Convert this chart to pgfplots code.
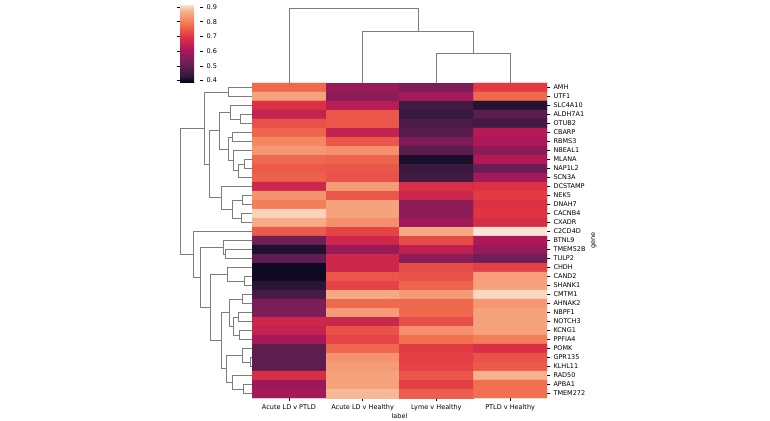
\documentclass[border=0pt]{standalone}
\usepackage{fontspec}
\setmainfont{DejaVu Sans}
\usepackage{pgfplots}
\pgfplotsset{compat=1.18}
\pgfplotsset{colormap={rocket}{rgb255(0pt)=(3,5,26); rgb255(10pt)=(53,25,62); rgb255(30pt)=(112,31,87); rgb255(50pt)=(173,23,89); rgb255(70pt)=(225,51,66); rgb255(90pt)=(243,118,81); rgb255(110pt)=(246,180,143); rgb255(120pt)=(250,235,221)}}
\definecolor{dend}{RGB}{125,125,125}
\tikzset{dd/.style={draw=dend, line width=0.6pt, mark=none}}
\newcommand{\tf}{\fontsize{6.5}{7}\selectfont}
\begin{document}
\begin{tikzpicture}
\useasboundingbox (0pt,0pt) rectangle (770pt,420pt);
% heatmap
\begin{axis}[
  at={(252pt,337pt)}, anchor=north west,
  width=295pt, height=315pt, scale only axis,
  xmin=-0.5, xmax=3.5, ymin=0.5, ymax=35.5, y dir=reverse,
  axis x line*=bottom, axis y line*=right, axis line style={draw=none},
  tick align=outside, major tick length=3pt, tick style={black, line width=0.5pt},
  xtick={0,1,2,3},
  xticklabels={Acute LD v PTLD, Acute LD v Healthy, Lyme v Healthy, PTLD v Healthy},
  ytick={1,...,35},
  yticklabels={AMH,UTF1,SLC4A10,ALDH7A1,OTUB2,CBARP,RBMS3,NBEAL1,MLANA,NAP1L2,SCN3A,DCSTAMP,NEK5,DNAH7,CACNB4,CXADR,C2CD4D,BTNL9,TMEM52B,TULP2,CHDH,CAND2,SHANK1,CMTM1,AHNAK2,NBPF1,NOTCH3,KCNG1,PPFIA4,POMK,GPR135,KLHL11,RAD50,APBA1,TMEM272},
  tick label style={font=\tf},
  xlabel={label}, ylabel={gene},
  label style={font=\tf},
  xlabel style={yshift=4pt},
  ylabel shift=-1pt,
  colormap name=rocket,
  point meta min=0.39, point meta max=0.92,
  colorbar,
  colorbar style={
    at={(-0.244,1.003)}, anchor=south west,
    width=20pt, height=78pt, scale only axis,
    ytick={0.4,0.5,0.6,0.7,0.8,0.9},
    axis line style={draw=none},
    tick align=outside, major tick length=3pt, tick style={black, line width=0.5pt},
    yticklabel style={font=\tf, /pgf/number format/.cd, fixed, fixed zerofill, precision=1, assume math mode=true},
  },
]
\addplot[matrix plot*, mesh/cols=4, point meta=explicit] table[x=x, y=y, meta=v] {
x y v
0 1 0.77
1 1 0.58
2 1 0.54
3 1 0.71
0 2 0.85
1 2 0.56
2 2 0.60
3 2 0.77
0 3 0.69
1 3 0.63
2 3 0.45
3 3 0.42
0 4 0.65
1 4 0.745
2 4 0.435
3 4 0.49
0 5 0.74
1 5 0.745
2 5 0.47
3 5 0.455
0 6 0.765
1 6 0.645
2 6 0.485
3 6 0.625
0 7 0.81
1 7 0.745
2 7 0.54
3 7 0.615
0 8 0.835
1 8 0.825
2 8 0.49
3 8 0.56
0 9 0.77
1 9 0.765
2 9 0.41
3 9 0.62
0 10 0.75
1 10 0.745
2 10 0.44
3 10 0.515
0 11 0.76
1 11 0.74
2 11 0.45
3 11 0.60
0 12 0.665
1 12 0.84
2 12 0.685
3 12 0.69
0 13 0.83
1 13 0.745
2 13 0.66
3 13 0.71
0 14 0.80
1 14 0.85
2 14 0.565
3 14 0.69
0 15 0.90
1 15 0.85
2 15 0.565
3 15 0.70
0 16 0.865
1 16 0.825
2 16 0.59
3 16 0.68
0 17 0.75
1 17 0.72
2 17 0.86
3 17 0.915
0 18 0.52
1 18 0.665
2 18 0.73
3 18 0.615
0 19 0.415
1 19 0.58
2 19 0.64
3 19 0.58
0 20 0.50
1 20 0.665
2 20 0.56
3 20 0.52
0 21 0.40
1 21 0.665
2 21 0.735
3 21 0.715
0 22 0.40
1 22 0.745
2 22 0.74
3 22 0.845
0 23 0.425
1 23 0.72
2 23 0.765
3 23 0.85
0 24 0.46
1 24 0.86
2 24 0.84
3 24 0.905
0 25 0.535
1 25 0.77
2 25 0.77
3 25 0.835
0 26 0.535
1 26 0.84
2 26 0.77
3 26 0.85
0 27 0.665
1 27 0.66
2 27 0.735
3 27 0.85
0 28 0.65
1 28 0.74
2 28 0.825
3 28 0.85
0 29 0.605
1 29 0.72
2 29 0.78
3 29 0.80
0 30 0.495
1 30 0.77
2 30 0.71
3 30 0.685
0 31 0.495
1 31 0.83
2 31 0.715
3 31 0.74
0 32 0.495
1 32 0.84
2 32 0.72
3 32 0.75
0 33 0.685
1 33 0.85
2 33 0.745
3 33 0.875
0 34 0.585
1 34 0.85
2 34 0.715
3 34 0.78
0 35 0.60
1 35 0.88
2 35 0.755
3 35 0.78
};
\end{axis}
% left dendrogram
\begin{axis}[
  at={(180pt,337pt)}, anchor=north west,
  width=72pt, height=315pt, scale only axis,
  xmin=0, xmax=72, x dir=reverse, ymin=0.5, ymax=35.5, y dir=reverse,
  hide axis, clip=false,
]
\addplot[dd] coordinates {(0,1)(24,1)(24,2)(0,2)};
\addplot[dd] coordinates {(0,4)(12,4)(12,5)(0,5)};
\addplot[dd] coordinates {(0,3)(22,3)(22,4.5)(12,4.5)};
\addplot[dd] coordinates {(0,6)(20,6)(20,7)(0,7)};
\addplot[dd] coordinates {(0,9)(8,9)(8,10)(0,10)};
\addplot[dd] coordinates {(8,9.5)(14,9.5)(14,11)(0,11)};
\addplot[dd] coordinates {(0,8)(19,8)(19,10.25)(14,10.25)};
\addplot[dd] coordinates {(20,6.5)(24,6.5)(24,9.125)(19,9.125)};
\addplot[dd] coordinates {(22,3.75)(33,3.75)(33,7.8125)(24,7.8125)};
\addplot[dd] coordinates {(0,13)(10,13)(10,14)(0,14)};
\addplot[dd] coordinates {(0,15)(11,15)(11,16)(0,16)};
\addplot[dd] coordinates {(10,13.5)(20,13.5)(20,15.5)(11,15.5)};
\addplot[dd] coordinates {(0,12)(31,12)(31,14.5)(20,14.5)};
\addplot[dd] coordinates {(33,5.78125)(43,5.78125)(43,13.25)(31,13.25)};
\addplot[dd] coordinates {(24,1.5)(48,1.5)(48,9.515625)(43,9.515625)};
\addplot[dd] coordinates {(0,19)(27,19)(27,20)(0,20)};
\addplot[dd] coordinates {(0,18)(29,18)(29,19.5)(27,19.5)};
\addplot[dd] coordinates {(0,22)(8,22)(8,23)(0,23)};
\addplot[dd] coordinates {(0,21)(25,21)(25,22.5)(8,22.5)};
\addplot[dd] coordinates {(0,24)(10,24)(10,25)(0,25)};
\addplot[dd] coordinates {(0,26)(14,26)(14,27)(0,27)};
\addplot[dd] coordinates {(0,28)(13,28)(13,29)(0,29)};
\addplot[dd] coordinates {(14,26.5)(19,26.5)(19,28.5)(13,28.5)};
\addplot[dd] coordinates {(10,24.5)(23,24.5)(23,27.5)(19,27.5)};
\addplot[dd] coordinates {(0,31)(2,31)(2,32)(0,32)};
\addplot[dd] coordinates {(0,30)(10,30)(10,31.5)(2,31.5)};
\addplot[dd] coordinates {(0,34)(9,34)(9,35)(0,35)};
\addplot[dd] coordinates {(0,33)(20,33)(20,34.5)(9,34.5)};
\addplot[dd] coordinates {(10,30.75)(26,30.75)(26,33.75)(20,33.75)};
\addplot[dd] coordinates {(23,26)(31,26)(31,32.25)(26,32.25)};
\addplot[dd] coordinates {(25,21.75)(42,21.75)(42,29.125)(31,29.125)};
\addplot[dd] coordinates {(29,18.75)(52,18.75)(52,25.4375)(42,25.4375)};
\addplot[dd] coordinates {(0,17)(59,17)(59,22.09375)(52,22.09375)};
\addplot[dd] coordinates {(48,5.5078)(72,5.5078)(72,19.546875)(59,19.546875)};
\end{axis}
% top dendrogram
\begin{axis}[
  at={(252pt,337pt)}, anchor=south west,
  width=295pt, height=75pt, scale only axis,
  xmin=-0.5, xmax=3.5, ymin=0, ymax=75,
  hide axis, clip=false,
]
\addplot[dd] coordinates {(2,0)(2,30)(3,30)(3,0)};
\addplot[dd] coordinates {(1,0)(1,52)(2.5,52)(2.5,30)};
\addplot[dd] coordinates {(0,0)(0,75)(1.75,75)(1.75,52)};
\end{axis}
\end{tikzpicture}
\end{document}
